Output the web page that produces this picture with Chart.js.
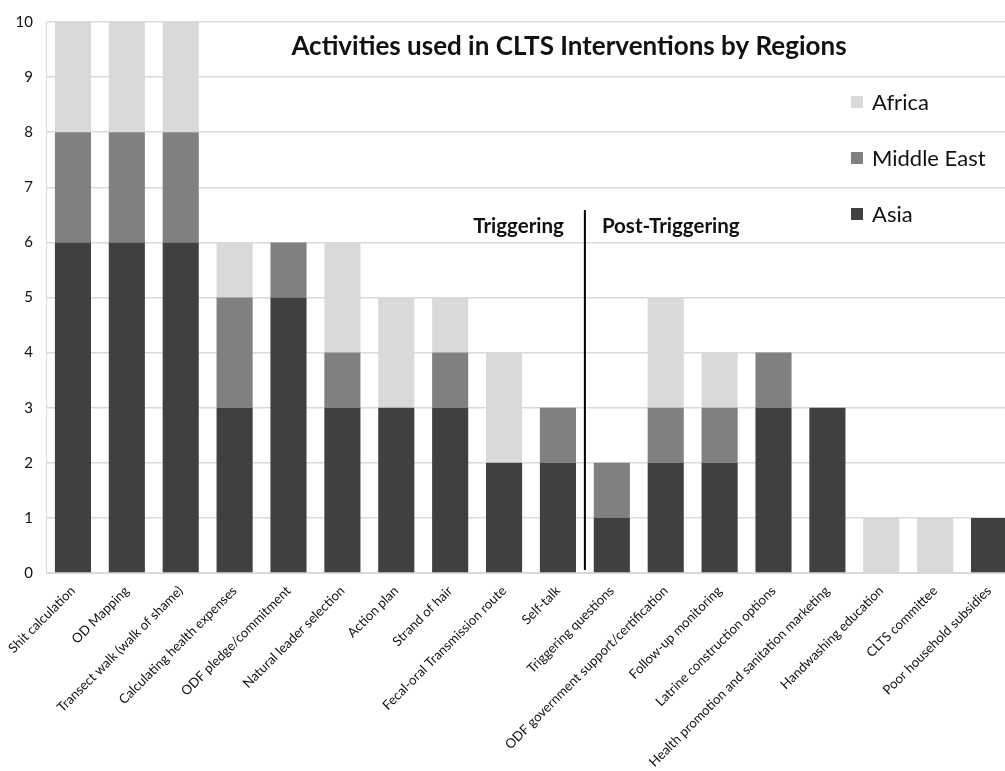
<!DOCTYPE html>
<html><head><meta charset="utf-8">
<script src="https://cdn.jsdelivr.net/npm/chart.js@4/dist/chart.umd.min.js"></script>
<style>
html,body{margin:0;padding:0;background:#fff;overflow:hidden;width:1005px;height:771px}
#wrap{width:1020px;height:771px}
</style>
</head><body>
<div id="wrap"><canvas id="c" width="1020" height="771"></canvas></div>
<script>
const categories = [
  "Shit calculation","OD Mapping","Transect walk (walk of shame)","Calculating health expenses",
  "ODF pledge/commitment","Natural leader selection","Action plan","Strand of hair",
  "Fecal-oral Transmission route","Self-talk","Triggering questions",
  "ODF government support/certification","Follow-up monitoring","Latrine construction options",
  "Health promotion and sanitation marketing","Handwashing education","CLTS committee",
  "Poor household subsidies"
];
const asia       = [6,6,6,3,5,3,3,3,2,2,1,2,2,3,3,0,0,1];
const middleEast = [2,2,2,2,1,1,0,1,0,1,1,1,1,1,0,0,0,0];
const africa     = [2,2,2,1,0,2,2,1,2,0,0,2,1,0,0,1,1,0];
const seriesNames = ["Asia","Middle East","Africa"];
const seriesColors = ["#404040","#808080","#d9d9d9"];
const yMin = 0, yMax = 10, yStep = 1;
const chartTitle = "Activities used in CLTS Interventions by Regions";
const phaseLabels = ["Triggering","Post-Triggering"];
const dividerAfterIndex = 9;

const FONT = "Lato, 'Open Sans', sans-serif";

const overlay = {
  id: 'overlay',
  afterDraw(chart) {
    const ctx = chart.ctx;
    const x = chart.scales.x, y = chart.scales.y;
    ctx.save();
    // title
    ctx.fillStyle = '#111';
    ctx.font = "bold 26px " + FONT;
    ctx.textAlign = 'center';
    ctx.textBaseline = 'alphabetic';
    ctx.fillText(chartTitle, 569, 55);
    // legend (top to bottom: Africa, Middle East, Asia)
    ctx.textBaseline = 'middle';
    ctx.font = "22px " + FONT;
    ctx.textAlign = 'left';
    const order = [2,1,0];
    order.forEach((di, k) => {
      const ly = 102 + k * 56;
      ctx.fillStyle = seriesColors[di];
      ctx.fillRect(851, ly - 6, 12, 12);
      ctx.fillStyle = '#111';
      ctx.fillText(seriesNames[di], 872, ly + 1);
    });
    // divider
    const xd = (x.getPixelForValue(dividerAfterIndex) + x.getPixelForValue(dividerAfterIndex + 1)) / 2;
    ctx.strokeStyle = '#000';
    ctx.lineWidth = 2;
    ctx.beginPath();
    ctx.moveTo(xd, 210);
    ctx.lineTo(xd, y.getPixelForValue(0) - 3);
    ctx.stroke();
    ctx.font = "bold 20.5px " + FONT;
    ctx.fillStyle = '#111';
    ctx.textAlign = 'right';
    ctx.fillText(phaseLabels[0], xd - 21, 226);
    ctx.textAlign = 'left';
    ctx.fillText(phaseLabels[1], xd + 17, 226);
    ctx.restore();
  }
};

new Chart(document.getElementById('c'), {
  type: 'bar',
  data: {
    labels: categories,
    datasets: [
      { label: seriesNames[0], data: asia, backgroundColor: seriesColors[0] },
      { label: seriesNames[1], data: middleEast, backgroundColor: seriesColors[1] },
      { label: seriesNames[2], data: africa, backgroundColor: seriesColors[2] }
    ]
  },
  options: {
    responsive: false,
    animation: false,
    layout: { padding: { top: 20, right: 4, left: 0, bottom: 0 } },
    datasets: { bar: { categoryPercentage: 1.0, barPercentage: 0.67 } },
    plugins: { legend: { display: false }, title: { display: false }, tooltip: { enabled: false } },
    scales: {
      x: {
        stacked: true,
        grid: { display: false },
        border: { color: '#d9d9d9' },
        ticks: { color: '#111', font: { family: FONT, size: 13.2 }, maxRotation: 45, minRotation: 45, autoSkip: false, padding: 2 },
        afterFit(s) { s.height = 198; }
      },
      y: {
        stacked: true,
        min: yMin, max: yMax,
        grid: { color: '#d9d9d9', lineWidth: 1.5, drawTicks: false },
        border: { color: '#d9d9d9' },
        ticks: { stepSize: yStep, color: '#111', font: { family: FONT, size: 15 }, padding: 13 },
        afterFit(s) { s.width = 46; }
      }
    }
  },
  plugins: [overlay]
});
</script>
</body></html>
